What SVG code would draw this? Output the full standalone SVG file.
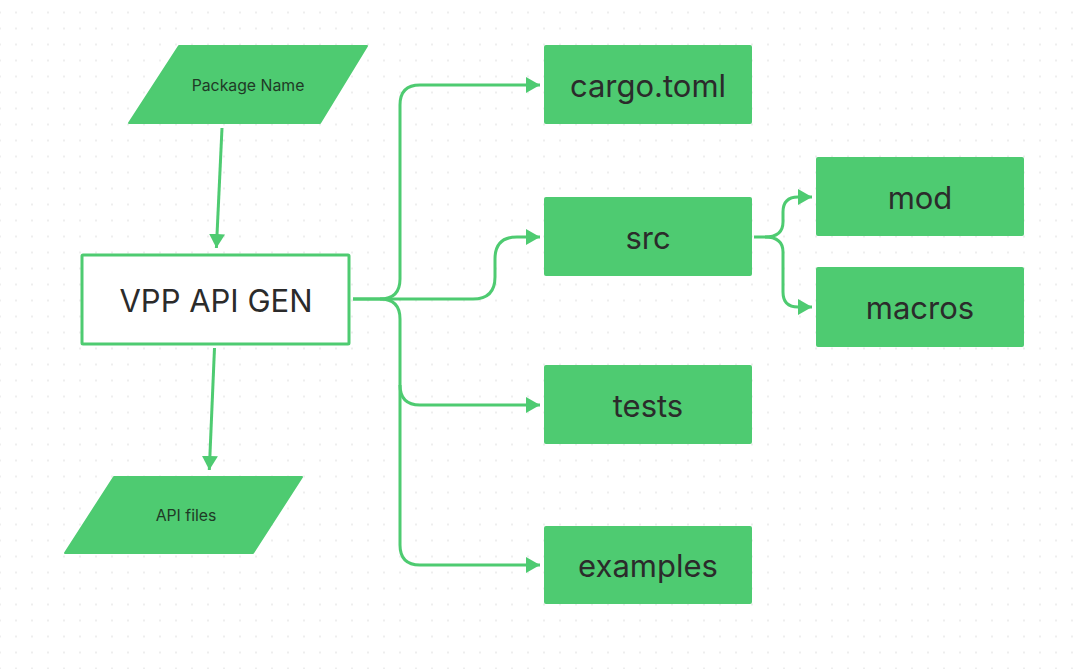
<svg xmlns="http://www.w3.org/2000/svg" width="1079" height="669" viewBox="0 0 1079 669">
<defs>
<pattern id="dots" x="-8" y="4.5" width="16" height="16" patternUnits="userSpaceOnUse">
<circle cx="8" cy="8" r="1" fill="#e8e8e8"/>
</pattern>
<marker id="arr" viewBox="0 0 14 16" refX="14" refY="8" markerWidth="14" markerHeight="16" markerUnits="userSpaceOnUse" orient="auto">
<path d="M0,0 L14,8 L0,16 Z" fill="#4ECB71"/>
</marker>
<style>
.box{fill:#4ECB71;}
.para{fill:#4ECB71;stroke:#4ECB71;stroke-width:2;stroke-linejoin:round;}
.big{font-family:Inter,"Liberation Sans",sans-serif;font-size:31px;fill:#2b2b2b;text-anchor:middle;dominant-baseline:central;}
.small{font-family:Inter,"Liberation Sans",sans-serif;font-size:15.8px;fill:#1f3a26;text-anchor:middle;dominant-baseline:central;}
.conn{fill:none;stroke:#4ECB71;stroke-width:3;marker-end:url(#arr);}
</style>
</defs>
<rect width="1079" height="669" fill="#ffffff"/>
<rect width="1079" height="669" fill="url(#dots)"/>

<g id="connectors">
<path class="conn" d="M222,128 L216.4,248"/>
<path class="conn" d="M214.5,348 L209.3,470"/>
<path class="conn" d="M353,299 H380 Q400,299 400,279 V105 Q400,85 420,85 H540"/>
<path class="conn" d="M353,299 H473 Q495,299 495,277 V259 Q495,237 517,237 H540"/>
<path class="conn" d="M380,299 Q400,299 400,319 V385 Q400,405 420,405 H540"/>
<path class="conn" d="M400,385 V545 Q400,565 420,565 H540"/>
<path class="conn" d="M754,237 H765 Q783,237 783,222 V212 Q783,197 798,197 H812"/>
<path class="conn" d="M765,237 Q783,237 783,252 V292 Q783,307 798,307 H812"/>
</g>

<g id="package-name">
<polygon class="para" points="179,46 367,46 320,123 129,123"/>
<text class="small" x="248" y="85.5">Package Name</text>
</g>

<g id="vpp-api-gen">
<rect x="82" y="255" width="267" height="89" fill="#ffffff" stroke="#4ECB71" stroke-width="3" rx="1"/>
<text class="big" x="216" y="300">VPP API GEN</text>
</g>

<g id="api-files">
<polygon class="para" points="114,477 302,477 253,553 65,553"/>
<text class="small" x="186" y="515.5">API files</text>
</g>

<g id="cargo-toml">
<rect class="box" x="544" y="45" width="208" height="79" rx="2"/>
<text class="big" x="648" y="85">cargo.toml</text>
</g>

<g id="src">
<rect class="box" x="544" y="197" width="208" height="79" rx="2"/>
<text class="big" x="648" y="237">src</text>
</g>

<g id="tests">
<rect class="box" x="544" y="365" width="208" height="79" rx="2"/>
<text class="big" x="648" y="405">tests</text>
</g>

<g id="examples">
<rect class="box" x="544" y="526" width="208" height="78" rx="2"/>
<text class="big" x="648" y="565">examples</text>
</g>

<g id="mod">
<rect class="box" x="816" y="157" width="208" height="79" rx="2"/>
<text class="big" x="920" y="197">mod</text>
</g>

<g id="macros">
<rect class="box" x="816" y="267" width="208" height="80" rx="2"/>
<text class="big" x="920" y="307">macros</text>
</g>
</svg>
